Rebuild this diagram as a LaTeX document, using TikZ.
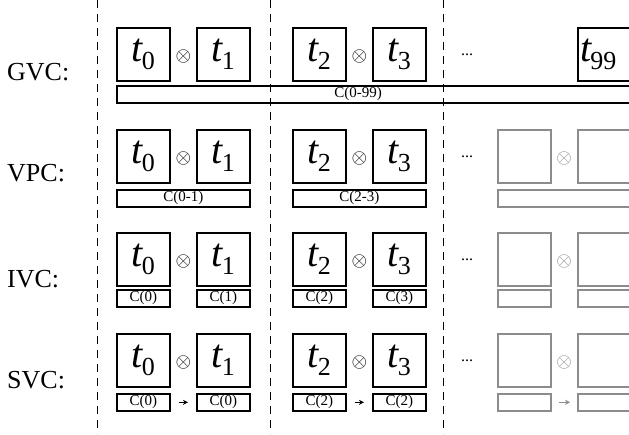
\documentclass[tikz,border=0pt]{standalone}
\usepackage{fontspec}
\setmainfont{Liberation Serif}
\usepackage{graphicx}
\usetikzlibrary{calc,arrows.meta}
\newcommand\tlab[1]{{\fontsize{40}{40}\selectfont\itshape t}\kern-1pt\raisebox{-8pt}{\fontsize{26}{26}\selectfont #1}}
\definecolor{ghost}{RGB}{140,140,140}
\begin{document}
\begin{tikzpicture}[x=1pt,y=-1pt,
  tbox/.style={draw, line width=1.7pt, minimum width=53pt, minimum height=53pt, inner sep=0pt, anchor=north west},
  gbox/.style={tbox, draw=ghost, line width=1.5pt},
  cbar/.style={draw, line width=1.7pt, minimum height=17pt, inner sep=0pt, anchor=north west, font=\fontsize{15}{15}\selectfont},
  gbar/.style={cbar, draw=ghost, line width=1.5pt},
  rowlab/.style={anchor=base west, inner sep=0pt, font=\fontsize{26}{26}\selectfont},
  ox/.style={inner sep=0pt, yshift=-2pt, font=\normalsize},
  dots/.style={anchor=base, inner sep=0pt, font=\fontsize{16}{16}\selectfont},
  dashline/.style={dash pattern=on 8pt off 6pt, line width=0.9pt},
  arr/.style={-{Stealth[length=5pt,width=5pt]}, line width=1.2pt},
  garr/.style={arr, draw=ghost}]
\useasboundingbox (0,0) rectangle (629,434);
% dashed separators
\foreach \x in {97,270,443} \draw[dashline] (\x,0) -- (\x,434);

% ---------- GVC ----------
\node[rowlab] (lg) at (7,80.5) {GVC:};
\node[tbox] (g0) at (116,27) {\tlab{0}};
\node[tbox] (g1) at (196,27) {\tlab{1}};
\node[tbox] (g2) at (292,27) {\tlab{2}};
\node[tbox] (g3) at (372,27) {\tlab{3}};
\node[tbox] (g99) at (577,27) {\hspace*{-12pt}\tlab{99}};
\node[ox] (gox1) at ($(g0.east)!0.5!(g1.west)$) {\scalebox{2}{$\otimes$}};
\node[ox] (gox2) at ($(g2.east)!0.5!(g3.west)$) {\scalebox{2}{$\otimes$}};
\node[dots] (gdots) at (467,55) {...};
\node[cbar, minimum width=540pt] (gbr) at (116,85) {};
\node[inner sep=0pt, font=\fontsize{15}{15}\selectfont] (gbrl) at (358,93.5) {C(0-99)};

% ---------- VPC ----------
\node[rowlab] (lv) at (7,181) {VPC:};
\node[tbox] (v0) at (116,129) {\tlab{0}};
\node[tbox] (v1) at (196,129) {\tlab{1}};
\node[tbox] (v2) at (292,129) {\tlab{2}};
\node[tbox] (v3) at (372,129) {\tlab{3}};
\node[gbox] (v4) at (497,129) {};
\node[gbox] (v5) at (577,129) {};
\node[ox] (vox1) at ($(v0.east)!0.5!(v1.west)$) {\scalebox{2}{$\otimes$}};
\node[ox] (vox2) at ($(v2.east)!0.5!(v3.west)$) {\scalebox{2}{$\otimes$}};
\node[ox, text=ghost] (vox3) at ($(v4.east)!0.5!(v5.west)$) {\scalebox{2}{$\otimes$}};
\node[dots] (vdots) at (467,157) {...};
\node[cbar, minimum width=133pt] (vb0) at (116,189) {C(0-1)};
\node[cbar, minimum width=133pt] (vb1) at (292,189) {C(2-3)};
\node[gbar, minimum width=160pt] (vb2) at (497,189) {};

% ---------- IVC ----------
\node[rowlab] (li) at (7,287) {IVC:};
\node[tbox] (i0) at (116,232) {\tlab{0}};
\node[tbox] (i1) at (196,232) {\tlab{1}};
\node[tbox] (i2) at (292,232) {\tlab{2}};
\node[tbox] (i3) at (372,232) {\tlab{3}};
\node[gbox] (i4) at (497,232) {};
\node[gbox] (i5) at (577,232) {};
\node[ox] (iox1) at ($(i0.east)!0.5!(i1.west)$) {\scalebox{2}{$\otimes$}};
\node[ox] (iox2) at ($(i2.east)!0.5!(i3.west)$) {\scalebox{2}{$\otimes$}};
\node[ox, text=ghost] (iox3) at ($(i4.east)!0.5!(i5.west)$) {\scalebox{2}{$\otimes$}};
\node[dots] (idots) at (467,260) {...};
\node[cbar, minimum width=53pt] (ib0) at (116,289) {C(0)};
\node[cbar, minimum width=53pt] (ib1) at (196,289) {C(1)};
\node[cbar, minimum width=53pt] (ib2) at (292,289) {C(2)};
\node[cbar, minimum width=53pt] (ib3) at (372,289) {C(3)};
\node[gbar, minimum width=53pt] (ib4) at (497,289) {};
\node[gbar, minimum width=53pt] (ib5) at (577,289) {};

% ---------- SVC ----------
\node[rowlab] (ls) at (7,388) {SVC:};
\node[tbox] (s0) at (116,333) {\tlab{0}};
\node[tbox] (s1) at (196,333) {\tlab{1}};
\node[tbox] (s2) at (292,333) {\tlab{2}};
\node[tbox] (s3) at (372,333) {\tlab{3}};
\node[gbox] (s4) at (497,333) {};
\node[gbox] (s5) at (577,333) {};
\node[ox] (sox1) at ($(s0.east)!0.5!(s1.west)$) {\scalebox{2}{$\otimes$}};
\node[ox] (sox2) at ($(s2.east)!0.5!(s3.west)$) {\scalebox{2}{$\otimes$}};
\node[ox, text=ghost] (sox3) at ($(s4.east)!0.5!(s5.west)$) {\scalebox{2}{$\otimes$}};
\node[dots] (sdots) at (467,361) {...};
\node[cbar, minimum width=53pt] (sb0) at (116,393) {C(0)};
\node[cbar, minimum width=53pt] (sb1) at (196,393) {C(0)};
\node[cbar, minimum width=53pt] (sb2) at (292,393) {C(2)};
\node[cbar, minimum width=53pt] (sb3) at (372,393) {C(2)};
\node[gbar, minimum width=53pt] (sb4) at (497,393) {};
\node[gbar, minimum width=53pt] (sb5) at (577,393) {};
\draw[arr] ([xshift=8pt]sb0.east) -- ([xshift=-8pt]sb1.west);
\draw[arr] ([xshift=8pt]sb2.east) -- ([xshift=-8pt]sb3.west);
\draw[garr] ([xshift=7pt]sb4.east) -- ([xshift=-7pt]sb5.west);
\end{tikzpicture}
\end{document}
